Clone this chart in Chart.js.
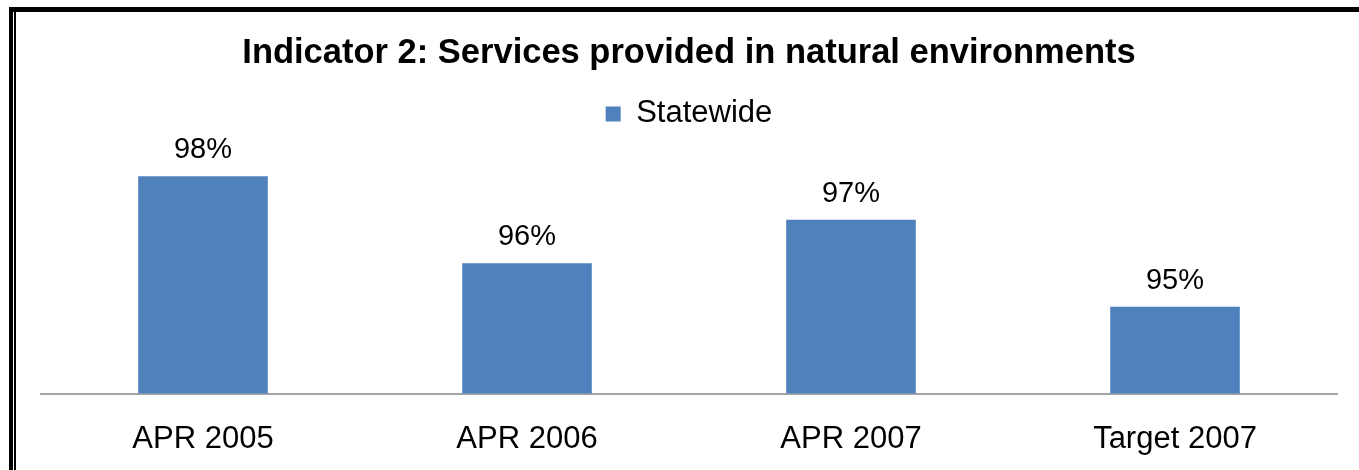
<!DOCTYPE html>
<html>
<head>
<meta charset="utf-8">
<script src="https://cdn.jsdelivr.net/npm/chart.js@4.4.1/dist/chart.umd.min.js"></script>
<style>
  html, body { margin: 0; padding: 0; background: #fff; }
  #wrap { position: relative; width: 1359px; height: 470px; overflow: hidden; }
  #myChart { position: absolute; left: 0; top: 0; }
  .edge { position: absolute; background: #000; pointer-events: none; }
</style>
</head>
<body>
<div id="wrap">
  <canvas id="myChart" width="1359" height="470"></canvas>
  <!-- frame round the chart: thick top, double line on the left -->
  <div class="edge" style="left:9px; top:7px; width:1350px; height:5px;"></div>
  <div class="edge" style="left:9px; top:7px; width:4px; height:463px;"></div>
  <div class="edge" style="left:14px; top:7px; width:2px; height:463px;"></div>
</div>
<script>
const categories = ['APR 2005', 'APR 2006', 'APR 2007', 'Target 2007'];
const statewide = [98, 96, 97, 95];
const seriesName = 'Statewide';
const chartTitle = 'Indicator 2: Services provided in natural environments';

const FONT = '"Liberation Sans", Arial, Helvetica, sans-serif';

// draws the "98%" style labels above each bar
const valueLabels = {
  id: 'valueLabels',
  afterDatasetsDraw(chart) {
    const ctx = chart.ctx;
    const meta = chart.getDatasetMeta(0);
    ctx.save();
    ctx.font = '29px ' + FONT;
    ctx.fillStyle = '#000';
    ctx.textAlign = 'center';
    ctx.textBaseline = 'alphabetic';
    meta.data.forEach((bar, i) => {
      ctx.fillText(statewide[i] + '%', bar.x, bar.y - 18);
    });
    ctx.restore();
  }
};

function makeChart(data, labels) {
  const ctx = document.getElementById('myChart');

  // eslint-disable-next-line no-new
  const myChart = new Chart(ctx, {
    type: 'bar',
    data: {
      labels: labels,
      datasets: [{
        label: seriesName,
        data: data,
        backgroundColor: '#4f81bd',
        borderWidth: 0,
        barPercentage: 0.4,
        categoryPercentage: 1.0
      }]
    },
    options: {
      responsive: false,
      animation: false,
      layout: {
        padding: { top: 33, left: 41, right: 22, bottom: 0 }
      },
      plugins: {
        title: {
          display: true,
          text: chartTitle,
          color: '#000',
          font: { family: FONT, size: 34.5, weight: 'bold' },
          padding: { top: 0, bottom: 19 }
        },
        legend: {
          display: true,
          position: 'top',
          labels: {
            color: '#000',
            font: { family: FONT, size: 31 },
            boxWidth: 15,
            boxHeight: 15,
            padding: 5
          }
        },
        tooltip: { enabled: false }
      },
      scales: {
        y: {
          display: false,
          min: 93,
          max: 98.85
        },
        x: {
          grid: { display: false, drawTicks: false },
          border: { display: true, color: '#a6a6a6', width: 2 },
          ticks: {
            color: '#000',
            font: { family: FONT, size: 31 },
            padding: 27
          },
          afterFit(scale) {
            // keep the baseline where the reference has it
            scale.height = 76.5;
          }
        }
      }
    },
    plugins: [valueLabels]
  });
  return myChart;
}

document.addEventListener('DOMContentLoaded', function() {
  makeChart(statewide, categories);
});
</script>
</body>
</html>
